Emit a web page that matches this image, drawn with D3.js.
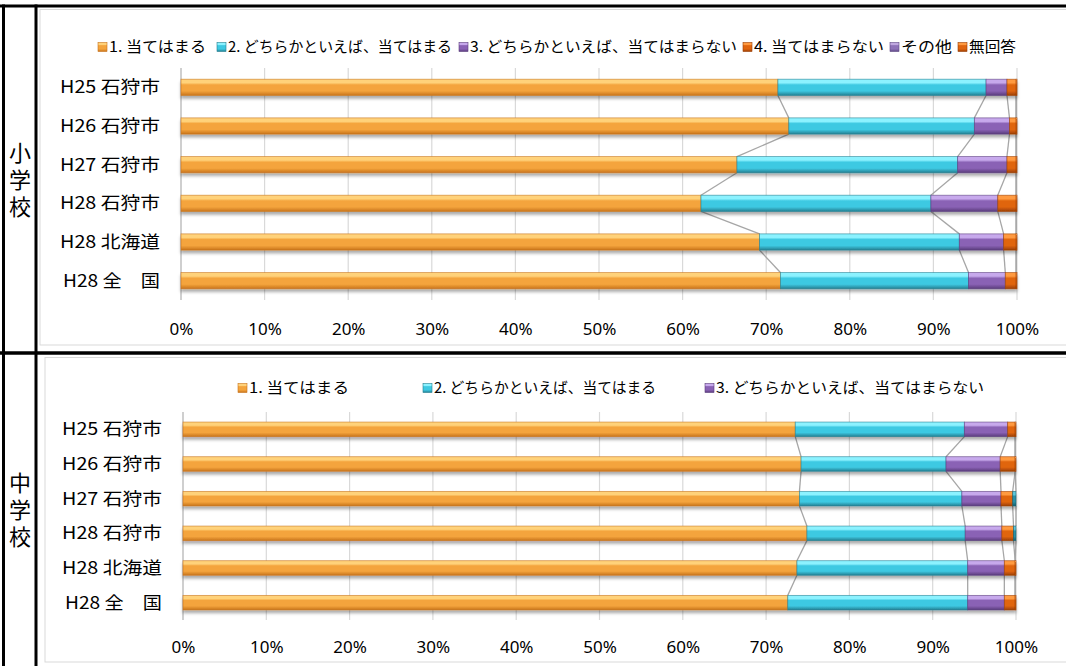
<!DOCTYPE html>
<html>
<head>
<meta charset="utf-8">
<script src="https://cdn.jsdelivr.net/npm/d3@7"></script>
<style>
  body { margin: 0; background: #fff; }
  svg { display: block; font-family: "Noto Sans CJK JP", "Noto Sans", sans-serif; }
</style>
</head>
<body>
<svg id="chart" width="1066" height="666"></svg>
<script>
// categories (same for both panels)
const categories = ["H25 石狩市", "H26 石狩市", "H27 石狩市", "H28 石狩市", "H28 北海道", "H28 全　国"];
const seriesNames = ["1. 当てはまる", "2. どちらかといえば、当てはまる", "3. どちらかといえば、当てはまらない", "4. 当てはまらない", "その他", "無回答"];
const ticks = [0, 10, 20, 30, 40, 50, 60, 70, 80, 90, 100];

// 小学校 (%), one array per series
const elem1 = [71.4, 72.7, 66.5, 62.2, 69.2, 71.7];
const elem2 = [24.9, 22.2, 26.4, 27.5, 23.9, 22.5];
const elem3 = [2.5, 4.2, 5.9, 8.0, 5.3, 4.4];
const elem4 = [1.1, 0.8, 1.1, 2.2, 1.5, 1.3];
const elem5 = [0, 0, 0, 0, 0, 0];
const elem6 = [0.1, 0.1, 0.1, 0.1, 0.1, 0.1];

// 中学校 (%)
const jr1 = [73.5, 74.2, 74.0, 74.9, 73.7, 72.6];
const jr2 = [20.3, 17.4, 19.5, 19.0, 20.5, 21.6];
const jr3 = [5.2, 6.5, 4.7, 4.4, 4.4, 4.4];
const jr4 = [0.9, 1.8, 1.4, 1.4, 1.3, 1.3];
const jr5 = [0, 0, 0.4, 0.3, 0, 0];
const jr6 = [0.1, 0.1, 0, 0, 0.1, 0.1];

// colours: [light, base, dark]
const elemColors = [
  ["#ffd27a", "#f4a43c", "#c8741c"],
  ["#8cf2ff", "#3ec9e2", "#237f92"],
  ["#c7a9ec", "#8a62b5", "#5a3c7c"],
  ["#ff9a40", "#e0650e", "#9c3f04"],
  ["#c0a8e0", "#8e72b8", "#5e4884"],
  ["#ff9a40", "#e0650e", "#9c3f04"]
];
const jrColors = [
  elemColors[0], elemColors[1], elemColors[2], elemColors[3],
  ["#5cc8dc", "#2a91a6", "#175e6c"],
  elemColors[5]
];

const svg = d3.select("#chart");
const defs = svg.append("defs");

defs.append("filter").attr("id", "shadow")
  .attr("x", "-5%").attr("y", "-30%").attr("width", "110%").attr("height", "190%")
  .append("feDropShadow")
  .attr("dx", 0).attr("dy", 3).attr("stdDeviation", 1.7)
  .attr("flood-color", "#000").attr("flood-opacity", 0.32);

function gradient(id, c) {
  let g = defs.append("linearGradient").attr("id", id)
    .attr("x1", 0).attr("y1", 0).attr("x2", 0).attr("y2", 1);
  g.append("stop").attr("offset", "0%").attr("stop-color", c[0]);
  g.append("stop").attr("offset", "22%").attr("stop-color", c[0]);
  g.append("stop").attr("offset", "35%").attr("stop-color", c[1]);
  g.append("stop").attr("offset", "72%").attr("stop-color", c[1]);
  g.append("stop").attr("offset", "100%").attr("stop-color", c[2]);
}
elemColors.forEach((c, i) => gradient("ge" + i, c));
jrColors.forEach((c, i) => gradient("gj" + i, c));

// frame
svg.append("rect").attr("x", 40).attr("y", 9.5).attr("width", 1040).attr("height", 335.5)
  .attr("fill", "#fff").attr("stroke", "#d9d9d9");
svg.append("rect").attr("x", 45).attr("y", 357.5).attr("width", 1040).attr("height", 304.5)
  .attr("fill", "#fff").attr("stroke", "#d9d9d9");

const frame = svg.append("g").attr("stroke", "#000");
frame.append("line").attr("x1", 0).attr("x2", 1066).attr("y1", 6).attr("y2", 6).attr("stroke-width", 3);
frame.append("line").attr("x1", 0).attr("x2", 1066).attr("y1", 353).attr("y2", 353).attr("stroke-width", 3.5);
frame.append("line").attr("x1", 3.5).attr("x2", 3.5).attr("y1", 4.5).attr("y2", 666).attr("stroke-width", 3);
frame.append("line").attr("x1", 36).attr("x2", 36).attr("y1", 4.5).attr("y2", 666).attr("stroke-width", 3);

// vertical side labels
function sideLabel(text, yc) {
  svg.append("text")
    .attr("x", 20).attr("y", yc)
    .attr("writing-mode", "tb").attr("text-anchor", "middle")
    .attr("font-size", 22).attr("letter-spacing", 5).attr("fill", "#000")
    .text(text);
}
sideLabel("小学校", 182);
sideLabel("中学校", 512);

function panel(opt) {
  const series = opt.series;
  const rows = categories.map((c, i) => {
    let acc = 0;
    return series.map((s, k) => {
      const r = { cat: c, k: k, x0: acc, x1: acc + s[i] };
      acc += s[i];
      return r;
    });
  });

  const x = d3.scaleLinear().domain([0, 100]).range(opt.xRange);
  const y = d3.scaleBand().domain(categories).range(opt.yRange)
    .paddingInner(0.58).paddingOuter(0.29);

  const g = svg.append("g");

  // gridlines
  g.append("g").selectAll("line").data(ticks).join("line")
    .attr("x1", d => x(d)).attr("x2", d => x(d))
    .attr("y1", opt.yRange[0]).attr("y2", opt.yRange[1])
    .attr("stroke", d => d === 0 ? "#bfbfbf" : "#d9d9d9")
    .attr("stroke-width", d => d === 0 ? 1.5 : 1.2);

  // x axis labels
  const axis = d3.axisBottom(x).tickValues(ticks).tickFormat(d => d + "%").tickSize(0);
  g.append("g").attr("transform", `translate(0,${opt.tickY})`).call(axis)
    .call(a => a.select(".domain").remove())
    .selectAll("text").attr("font-size", 17).attr("fill", "#000")
    .attr("font-family", "'Noto Sans', sans-serif").attr("dy", "0.32em");

  // category labels
  g.append("g").selectAll("text").data(categories).join("text")
    .attr("x", opt.labelX).attr("y", d => y(d) + y.bandwidth() / 2)
    .attr("dy", "0.35em").attr("text-anchor", "end")
    .attr("font-size", 17.5).attr("fill", "#000")
    .attr("textLength", (d, i) => i === 5 ? 97 : 100).attr("lengthAdjust", "spacingAndGlyphs")
    .text(d => d);

  // series lines
  const lines = g.append("g").attr("stroke", "#a6a6a6").attr("stroke-width", 1.3);
  for (let i = 0; i < categories.length - 1; i++) {
    for (let k = 0; k < series.length - 1; k++) {
      lines.append("line")
        .attr("x1", x(rows[i][k].x1)).attr("y1", y(categories[i]) + y.bandwidth())
        .attr("x2", x(rows[i + 1][k].x1)).attr("y2", y(categories[i + 1]));
    }
  }

  // bars
  const bars = g.append("g").selectAll("g").data(rows).join("g")
    .attr("filter", "url(#shadow)");
  bars.selectAll("rect").data(d => d.filter(r => r.x1 - r.x0 > 0)).join("rect")
    .attr("x", d => x(d.x0)).attr("y", d => y(d.cat))
    .attr("width", d => x(d.x1) - x(d.x0))
    .attr("height", y.bandwidth())
    .attr("fill", d => `url(#${opt.gid}${d.k})`)
    .attr("stroke", d => opt.colors[d.k][2]).attr("stroke-width", 0.8).attr("stroke-opacity", 0.7);

  // legend
  const lg = g.append("g").selectAll("g").data(opt.legendX).join("g")
    .attr("transform", d => `translate(${d},${opt.legendY})`);
  lg.append("rect").attr("x", 0).attr("y", -4.5).attr("width", 9).attr("height", 9)
    .attr("fill", (d, i) => `url(#${opt.gid}${i})`)
    .attr("stroke", (d, i) => opt.colors[i][2]).attr("stroke-width", 0.6);
  lg.append("text").attr("x", 11).attr("dy", "0.35em")
    .attr("font-size", 15).attr("fill", "#000")
    .attr("textLength", (d, i) => opt.legendW[i]).attr("lengthAdjust", "spacingAndGlyphs")
    .text((d, i) => seriesNames[i]);
}

panel({
  series: [elem1, elem2, elem3, elem4, elem5, elem6],
  colors: elemColors, gid: "ge",
  xRange: [181, 1017], yRange: [68, 300],
  tickY: 327, labelX: 160,
  legendY: 47, legendX: [98, 217, 459, 743, 890, 958],
  legendW: [97, 224, 267, 130, 51, 47]
});

panel({
  series: [jr1, jr2, jr3, jr4, jr5, jr6],
  colors: jrColors, gid: "gj",
  xRange: [183, 1016], yRange: [412, 620],
  tickY: 645, labelX: 162,
  legendY: 388, legendX: [238, 423, 705],
  legendW: [100, 222, 268]
});
</script>
</body>
</html>
